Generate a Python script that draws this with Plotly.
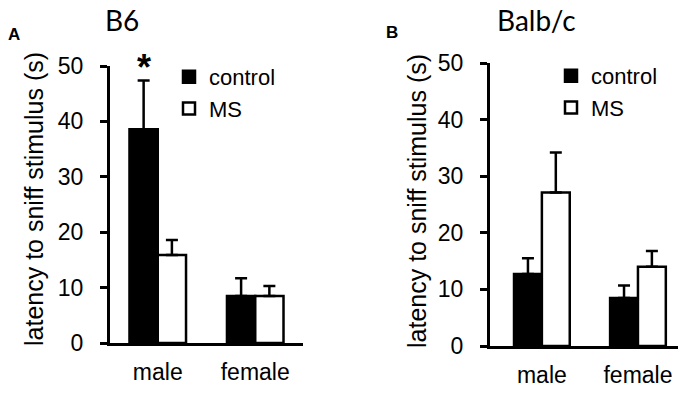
import plotly.graph_objects as go

categories = ["male", "female"]

# Panel A (B6)
b6_control = [38.6, 8.5]
b6_control_err = [8.8, 3.2]
b6_ms = [15.9, 8.5]
b6_ms_err = [2.7, 1.8]

# Panel B (Balb/c)
balb_control = [12.7, 8.5]
balb_control_err = [2.8, 2.2]
balb_ms = [27.1, 14.0]
balb_ms_err = [7.1, 2.8]

y_ticks = [0, 10, 20, 30, 40, 50]

# page is rendered with an 8px body margin, so layout in page pixels is shifted
OFF = 8
W, H = 686 - OFF, 393 - OFF
FONT = "Liberation Sans, Arial, sans-serif"
TFONT = "Lato, Carlito, sans-serif"


def px_x(p):
    return (p - OFF) / W


def px_y(p):
    return 1 - (p - OFF) / H


fig = go.Figure()


def add_bars(xa, ya, ctrl, ctrl_err, ms, ms_err, legend):
    fig.add_trace(go.Bar(
        x=categories, y=ctrl, name="control", xaxis=xa, yaxis=ya,
        marker=dict(color="black", line=dict(color="black", width=2.5)),
        error_y=dict(type="data", array=ctrl_err, arrayminus=[0] * len(ctrl),
                     symmetric=False, color="black", thickness=2.5, width=6),
        legend=legend, showlegend=True,
    ))
    fig.add_trace(go.Bar(
        x=categories, y=ms, name="MS", xaxis=xa, yaxis=ya,
        marker=dict(color="white", line=dict(color="black", width=2.5)),
        error_y=dict(type="data", array=ms_err, arrayminus=[0] * len(ms),
                     symmetric=False, color="black", thickness=2.5, width=6),
        legend=legend, showlegend=True,
    ))


add_bars("x", "y", b6_control, b6_control_err, b6_ms, b6_ms_err, "legend")
add_bars("x2", "y2", balb_control, balb_control_err, balb_ms, balb_ms_err, "legend2")

yax_common = dict(
    range=[0, 50], tickvals=y_ticks, ticks="outside", ticklen=7, tickwidth=2.5,
    tickcolor="black", showline=True, linecolor="black", linewidth=3,
    showgrid=False, zeroline=False, ticklabelstandoff=12, automargin=False,
    tickfont=dict(family=FONT, size=23, color="black"),
)
xax_common = dict(
    showline=True, linecolor="black", linewidth=3, ticks="", showgrid=False,
    zeroline=False, ticklabelstandoff=6, automargin=False,
    tickfont=dict(family=FONT, size=23, color="black"),
)

fig.update_layout(
    width=W, height=H,
    margin=dict(l=0, r=0, t=0, b=0, autoexpand=False),
    paper_bgcolor="white", plot_bgcolor="white",
    barmode="group", bargap=0.42, bargroupgap=0,
    xaxis=dict(domain=[px_x(110), px_x(303)], anchor="y", range=[-0.49, 1.49], **xax_common),
    yaxis=dict(domain=[px_y(343), px_y(66)], anchor="x", **yax_common),
    xaxis2=dict(domain=[px_x(490), 1.0], anchor="y2", range=[-0.54, 1.5], **xax_common),
    yaxis2=dict(domain=[px_y(346), px_y(63)], anchor="x2", **yax_common),
    legend=dict(x=px_x(169), y=px_y(56), xanchor="left", yanchor="top",
                bgcolor="rgba(0,0,0,0)", borderwidth=0, tracegroupgap=0,
                font=dict(family=FONT, size=22, color="black")),
    legend2=dict(x=px_x(551), y=px_y(55), xanchor="left", yanchor="top",
                 bgcolor="rgba(0,0,0,0)", borderwidth=0, tracegroupgap=0,
                 font=dict(family=FONT, size=22, color="black")),
    showlegend=True,
)

annotations = [
    dict(text="B6", x=px_x(122), y=px_y(20), xref="paper", yref="paper",
         showarrow=False, font=dict(family=TFONT, size=28, color="black"),
         xanchor="center", yanchor="middle"),
    dict(text="Balb/c", x=px_x(536), y=px_y(20), xref="paper", yref="paper",
         showarrow=False, font=dict(family=TFONT, size=28, color="black"),
         xanchor="center", yanchor="middle"),
    dict(text="<b>A</b>", x=px_x(14), y=px_y(34), xref="paper", yref="paper",
         showarrow=False, font=dict(family=FONT, size=17, color="black"),
         xanchor="center", yanchor="middle"),
    dict(text="<b>B</b>", x=px_x(392), y=px_y(32), xref="paper", yref="paper",
         showarrow=False, font=dict(family=FONT, size=17, color="black"),
         xanchor="center", yanchor="middle"),
    dict(text="latency to sniff stimulus (s)", x=px_x(34), y=px_y(199),
         xref="paper", yref="paper", textangle=-90, showarrow=False,
         font=dict(family=FONT, size=25, color="black"),
         xanchor="center", yanchor="middle"),
    dict(text="latency to sniff stimulus (s)", x=px_x(417), y=px_y(201),
         xref="paper", yref="paper", textangle=-90, showarrow=False,
         font=dict(family=FONT, size=25, color="black"),
         xanchor="center", yanchor="middle"),
    dict(text="<b>*</b>", x=0, y=b6_control[0] + b6_control_err[0],
         xref="x", yref="y", xshift=-14, yshift=-10, showarrow=False,
         font=dict(family=FONT, size=36, color="black"),
         xanchor="center", yanchor="bottom"),
]
fig.update_layout(annotations=annotations)

fig.write_html("out.html")
